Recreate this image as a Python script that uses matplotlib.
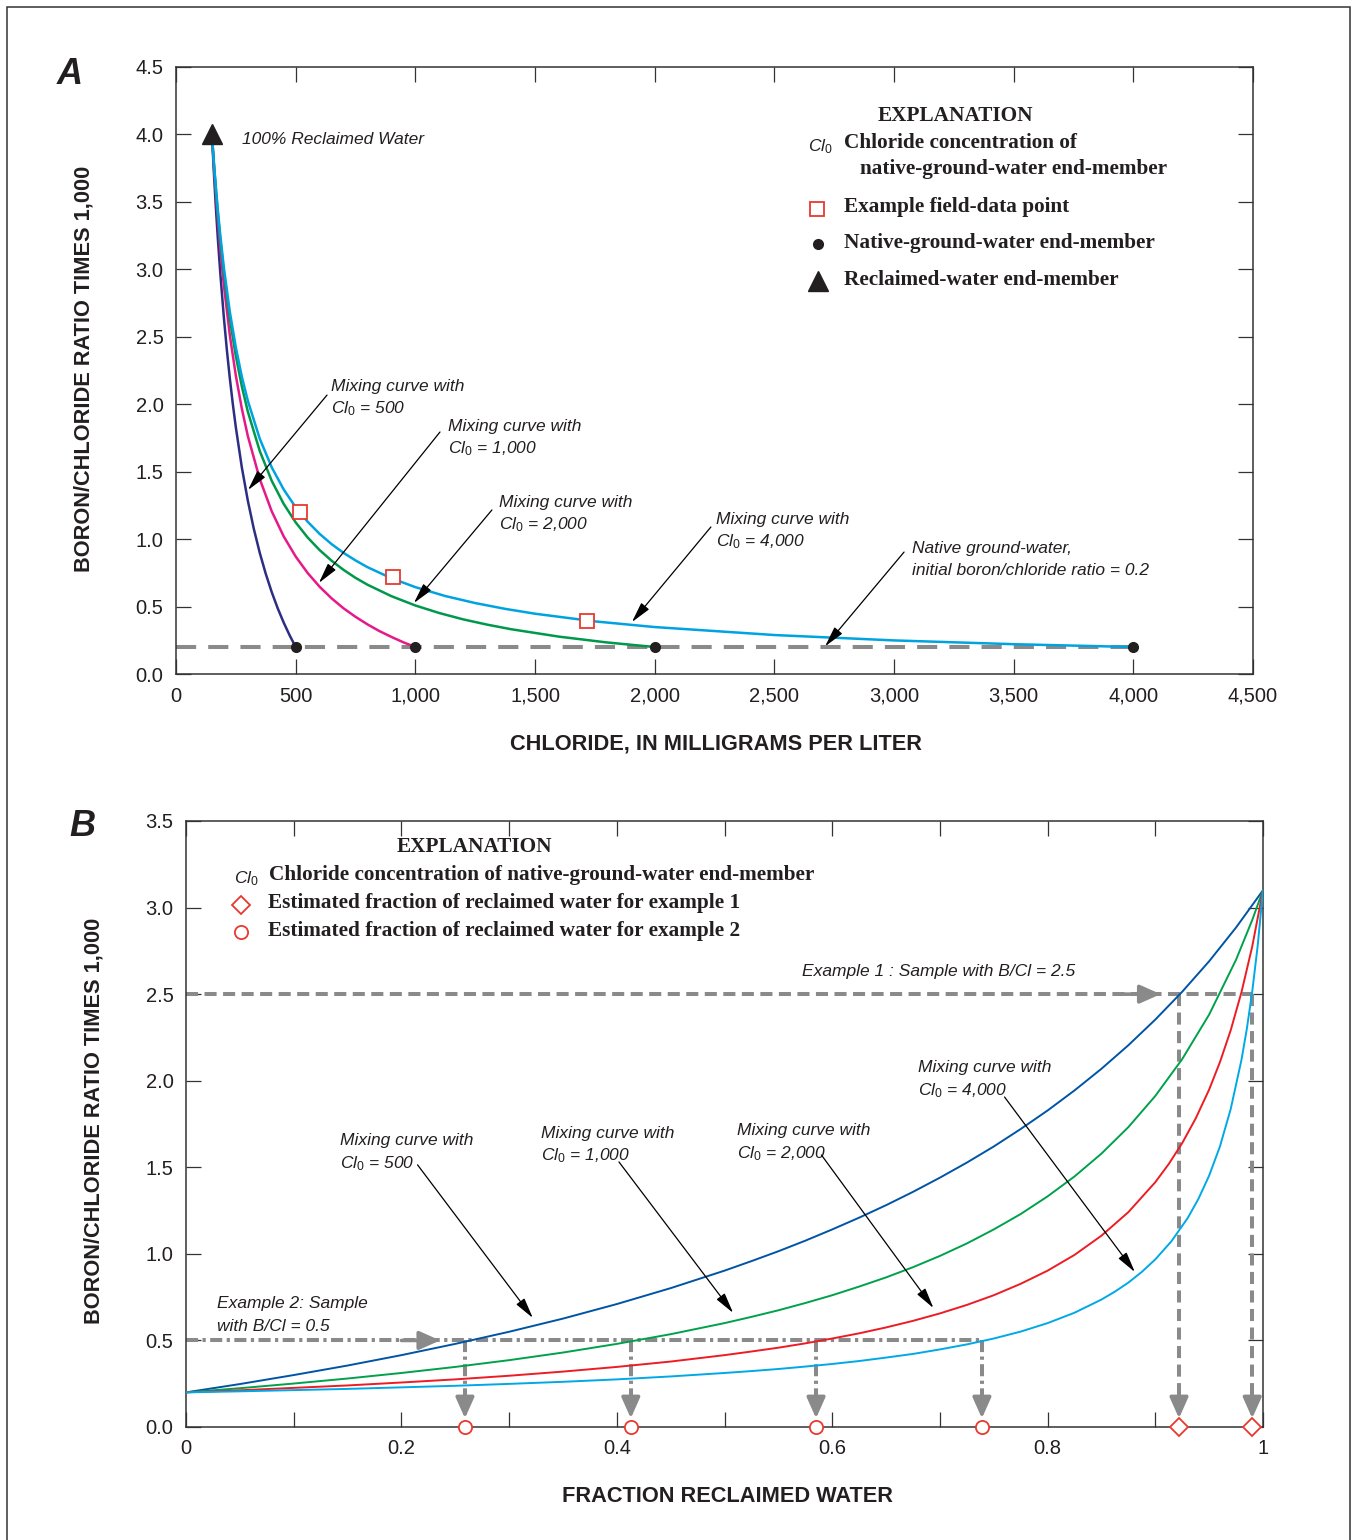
import matplotlib
matplotlib.use('Agg')
import matplotlib.pyplot as plt
from matplotlib.lines import Line2D
from matplotlib.patches import Rectangle

SANS = ['Liberation Sans', 'DejaVu Sans']
SERIF = ['Liberation Serif', 'DejaVu Serif']
plt.rcParams['font.family'] = SANS
plt.rcParams['mathtext.fontset'] = 'custom'
plt.rcParams['mathtext.it'] = 'Liberation Sans:italic'
plt.rcParams['mathtext.rm'] = 'Liberation Sans'

# ---- panel A: chloride (mg/L) vs boron/chloride ratio x 1000 ----
cl_500 = [150, 160, 165, 170, 175, 185, 200, 212.5, 225, 237.5, 250, 275, 300, 325, 350, 375, 400,
          425, 450, 475, 500]
bcl_500 = [4.0, 3.661, 3.506, 3.361, 3.224, 2.973, 2.643, 2.403, 2.190, 2.0, 1.829, 1.532, 1.286,
           1.077, 0.898, 0.743, 0.607, 0.487, 0.381, 0.286, 0.2]
cl_1000 = [150, 160, 170, 175, 185, 200, 225, 250, 275, 300, 350, 400, 450, 500, 550, 600, 650, 700,
           750, 800, 850, 900, 950, 1000]
bcl_1000 = [4.0, 3.721, 3.474, 3.361, 3.154, 2.882, 2.510, 2.212, 1.968, 1.765, 1.445, 1.206, 1.020,
            0.871, 0.749, 0.647, 0.561, 0.487, 0.424, 0.368, 0.318, 0.275, 0.235, 0.2]
cl_2000 = [150, 160, 170, 175, 185, 200, 225, 250, 275, 300, 350, 400, 450, 500, 550, 600, 650, 700,
           750, 800, 900, 1000, 1100, 1200, 1300, 1400, 1600, 1800, 2000]
bcl_2000 = [4.0, 3.743, 3.517, 3.413, 3.223, 2.973, 2.631, 2.357, 2.133, 1.946, 1.653, 1.432, 1.261,
            1.124, 1.012, 0.919, 0.840, 0.772, 0.713, 0.662, 0.577, 0.508, 0.452, 0.405, 0.366,
            0.332, 0.277, 0.234, 0.2]
cl_4000 = [150, 160, 170, 175, 185, 200, 225, 250, 275, 300, 350, 400, 450, 500, 550, 600, 650, 700,
           750, 800, 900, 1000, 1125, 1250, 1375, 1500, 1750, 2000, 2500, 3000, 3500, 4000]
bcl_4000 = [4.0, 3.753, 3.536, 3.436, 3.253, 3.013, 2.684, 2.421, 2.205, 2.026, 1.744, 1.532, 1.368,
            1.236, 1.129, 1.039, 0.963, 0.898, 0.842, 0.792, 0.710, 0.644, 0.578, 0.526, 0.483,
            0.447, 0.390, 0.348, 0.289, 0.249, 0.221, 0.2]

native_cl = [500, 1000, 2000, 4000]
native_ratio = 0.2
reclaimed_cl = 150
reclaimed_ratio = 4.0
field_cl = [518, 907, 1717]
field_ratio = [1.20, 0.72, 0.39]

# ---- panel B: fraction reclaimed water vs boron/chloride ratio x 1000 ----
f_500 = [0, 0.05, 0.1, 0.15, 0.2, 0.25, 0.3, 0.35, 0.4, 0.45, 0.5, 0.525, 0.55, 0.575, 0.6, 0.625,
         0.65, 0.675, 0.7, 0.725, 0.75, 0.775, 0.8, 0.825, 0.85, 0.875, 0.9, 0.925, 0.95, 0.975, 1.0]
r_500 = [0.2, 0.248, 0.300, 0.355, 0.415, 0.480, 0.550, 0.626, 0.710, 0.802, 0.903, 0.958, 1.015,
         1.076, 1.141, 1.209, 1.281, 1.358, 1.440, 1.527, 1.620, 1.721, 1.828, 1.944, 2.069, 2.205,
         2.353, 2.514, 2.690, 2.885, 3.1]
f_1000 = [0, 0.05, 0.1, 0.15, 0.2, 0.25, 0.3, 0.35, 0.4, 0.45, 0.5, 0.525, 0.55, 0.575, 0.6, 0.625,
          0.65, 0.675, 0.7, 0.725, 0.75, 0.775, 0.8, 0.825, 0.85, 0.875, 0.9, 0.925, 0.95, 0.975,
          0.99, 1.0]
r_1000 = [0.2, 0.224, 0.251, 0.280, 0.312, 0.347, 0.386, 0.430, 0.480, 0.536, 0.600, 0.636, 0.674,
          0.716, 0.761, 0.811, 0.864, 0.923, 0.988, 1.060, 1.141, 1.230, 1.332, 1.447, 1.579, 1.732,
          1.912, 2.125, 2.382, 2.699, 2.928, 3.1]
f_2000 = [0, 0.05, 0.1, 0.15, 0.2, 0.25, 0.3, 0.35, 0.4, 0.45, 0.5, 0.525, 0.55, 0.575, 0.6, 0.625,
          0.65, 0.675, 0.7, 0.725, 0.75, 0.775, 0.8, 0.825, 0.85, 0.875, 0.9, 0.9125, 0.925, 0.9375,
          0.95, 0.96, 0.97, 0.98, 0.99, 1.0]
r_2000 = [0.2, 0.212, 0.226, 0.240, 0.257, 0.275, 0.296, 0.320, 0.347, 0.378, 0.415, 0.436, 0.458,
          0.483, 0.511, 0.541, 0.575, 0.613, 0.656, 0.705, 0.761, 0.827, 0.903, 0.994, 1.105, 1.241,
          1.414, 1.519, 1.640, 1.782, 1.949, 2.107, 2.291, 2.511, 2.775, 3.1]
f_4000 = [0, 0.05, 0.1, 0.15, 0.2, 0.25, 0.3, 0.35, 0.4, 0.45, 0.5, 0.525, 0.55, 0.575, 0.6, 0.625,
          0.65, 0.675, 0.7, 0.725, 0.75, 0.775, 0.8, 0.825, 0.85, 0.8625, 0.875, 0.8875, 0.9, 0.915,
          0.93, 0.94, 0.95, 0.96, 0.97, 0.98, 0.985, 0.99, 0.995, 1.0]
r_4000 = [0.2, 0.206, 0.213, 0.220, 0.229, 0.238, 0.249, 0.261, 0.275, 0.292, 0.312, 0.323, 0.335,
          0.349, 0.364, 0.381, 0.401, 0.422, 0.448, 0.477, 0.511, 0.551, 0.600, 0.660, 0.736, 0.782,
          0.834, 0.896, 0.968, 1.073, 1.206, 1.317, 1.452, 1.620, 1.836, 2.120, 2.300, 2.515, 2.776,
          3.1]

ex1_ratio = 2.5
ex1_fraction = [0.922, 0.990]
ex2_ratio = 0.5
ex2_fraction = [0.259, 0.413, 0.585, 0.739]

GRAY = '#8a8a8a'
INK = '#231f20'
RED = '#e8392f'
W, H = 1353, 1540


def px(x, y):
    return x / W, 1 - y / H


def label_text(x, y, s, **kw):
    opts = dict(family=SERIF, weight='bold', size=15.3, color=INK, va='center', ha='left')
    opts.update(kw)
    fig.text(*px(x, y), s, **opts)


def legend_marker(x, y, **kw):
    fig.add_artist(Line2D([px(x, y)[0]], [px(x, y)[1]], transform=fig.transFigure, ls='none', **kw))


def arrow(ax, tip, start):
    ax.annotate('', xy=tip, xytext=start,
                arrowprops=dict(arrowstyle='-|>,head_length=0.9,head_width=0.22', color='k',
                                lw=0.9, shrinkA=0, shrinkB=0, mutation_scale=14))


def gray_head(ax, tip, tail):
    ax.annotate('', xy=tip, xytext=tail,
                arrowprops=dict(arrowstyle='-|>,head_length=0.9,head_width=0.4', color=GRAY,
                                lw=2.6, shrinkA=0, shrinkB=0, mutation_scale=14))


def style_axes(ax):
    for sp in ax.spines.values():
        sp.set_linewidth(1.1)
        sp.set_color('#333333')
    ax.tick_params(which='both', direction='in', length=11, width=0.9, color='#333333',
                   top=True, right=True, labelsize=14.5, labelcolor=INK, pad=9)


fig = plt.figure(figsize=(13.53, 15.40), dpi=100)
fig.add_artist(Rectangle((7 / W, -0.01), (1350 - 7) / W, 1.01 - 7 / H, transform=fig.transFigure,
                         fill=False, lw=1.1, ec='#333333'))

it = dict(style='italic', size=12.5, color=INK, va='center', ha='left')

# ================= panel A =================
axA = fig.add_axes([176 / W, 1 - 674 / H, 1077 / W, 607 / H])
axA.set_xlim(0, 4500)
axA.set_ylim(0, 4.5)
xt = list(range(0, 4501, 500))
axA.set_xticks(xt)
axA.set_xticklabels(['{:,}'.format(v) for v in xt])
yt = [i * 0.5 for i in range(10)]
axA.set_yticks(yt)
axA.set_yticklabels(['{:.1f}'.format(v) for v in yt])
style_axes(axA)

axA.plot([0, native_cl[-1]], [native_ratio, native_ratio], color=GRAY, lw=2.9, dashes=(5, 3), zorder=1)
axA.plot(cl_500, bcl_500, color='#2b2e83', lw=1.8, zorder=3)
axA.plot(cl_1000, bcl_1000, color='#e6198a', lw=1.8, zorder=3)
axA.plot(cl_2000, bcl_2000, color='#00984a', lw=1.8, zorder=3)
axA.plot(cl_4000, bcl_4000, color='#00a3e0', lw=1.8, zorder=3)
axA.plot(native_cl, [native_ratio] * len(native_cl), 'o', color=INK, ms=7, zorder=5)
axA.plot([reclaimed_cl], [reclaimed_ratio], '^', color=INK, ms=15, zorder=5, clip_on=False)
axA.plot(field_cl, field_ratio, 's', mfc='white', mec=RED, mew=1.3, ms=9.5, zorder=6)

axA.text(276, 3.96, '100% Reclaimed Water', **it)
axA.text(648, 2.135, 'Mixing curve with', **it)
axA.text(648, 1.964, 'Cl$_0$ = 500', **it)
arrow(axA, (301, 1.364), (631, 2.068))
axA.text(1136, 1.838, 'Mixing curve with', **it)
axA.text(1136, 1.668, 'Cl$_0$ = 1,000', **it)
arrow(axA, (597, 0.675), (1103, 1.794))
axA.text(1350, 1.275, 'Mixing curve with', **it)
axA.text(1350, 1.105, 'Cl$_0$ = 2,000', **it)
arrow(axA, (994, 0.526), (1320, 1.216))
axA.text(2256, 1.149, 'Mixing curve with', **it)
axA.text(2256, 0.979, 'Cl$_0$ = 4,000', **it)
arrow(axA, (1905, 0.385), (2235, 1.090))
axA.text(3075, 0.934, 'Native ground-water,', **it)
axA.text(3075, 0.764, 'initial boron/chloride ratio = 0.2', **it)
arrow(axA, (2712, 0.205), (3042, 0.904))

# explanation A
label_text(955, 116, 'EXPLANATION', ha='center')
fig.text(*px(808, 147), 'Cl$_0$', style='italic', size=12.5, color=INK, va='center', ha='left')
label_text(844, 143, 'Chloride concentration of')
label_text(860, 169, 'native-ground-water end-member')
legend_marker(817, 209, marker='s', mfc='white', mec=RED, mew=1.3, ms=9.5)
label_text(844, 207, 'Example field-data point')
legend_marker(818, 244, marker='o', color=INK, ms=7)
label_text(844, 243, 'Native-ground-water end-member')
legend_marker(818, 281, marker='^', color=INK, ms=15)
label_text(844, 280, 'Reclaimed-water end-member')

fig.text(*px(70, 75), 'A', weight='bold', style='italic', size=26, color=INK, ha='center', va='center')
fig.text(*px(84, 369), 'BORON/CHLORIDE RATIO TIMES 1,000', weight='bold', size=15.7, color=INK,
         rotation=90, ha='center', va='center')
fig.text(*px(716, 744), 'CHLORIDE, IN MILLIGRAMS PER LITER', weight='bold', size=15.7, color=INK,
         ha='center', va='center')

# ================= panel B =================
axB = fig.add_axes([186 / W, 1 - 1427 / H, 1077 / W, 606 / H])
axB.set_xlim(0, 1)
axB.set_ylim(0, 3.5)
axB.set_xticks([0, 0.2, 0.4, 0.6, 0.8, 1.0])
axB.set_xticklabels(['0', '0.2', '0.4', '0.6', '0.8', '1'])
axB.set_xticks([0.1, 0.3, 0.5, 0.7, 0.9], minor=True)
yt = [i * 0.5 for i in range(8)]
axB.set_yticks(yt)
axB.set_yticklabels(['{:.1f}'.format(v) for v in yt])
style_axes(axB)

axB.plot(f_500, r_500, color='#0054a6', lw=1.4, zorder=3)
axB.plot(f_1000, r_1000, color='#00a14b', lw=1.4, zorder=3)
axB.plot(f_2000, r_2000, color='#ed1c24', lw=1.4, zorder=3)
axB.plot(f_4000, r_4000, color='#00a9e6', lw=1.4, zorder=3)

# example 1 guide lines
dash1 = (3, 1.6)
axB.plot([0, ex1_fraction[-1]], [ex1_ratio, ex1_ratio], color=GRAY, lw=2.9, dashes=dash1, zorder=2)
for f in ex1_fraction:
    axB.plot([f, f], [ex1_ratio, 0.14], color=GRAY, lw=2.9, dashes=dash1, zorder=2)
    gray_head(axB, (f, 0.05), (f, 0.15))
gray_head(axB, (0.905, ex1_ratio), (0.87, ex1_ratio))

# example 2 guide lines
dash2 = (3, 1.1, 0.8, 1.1)
axB.plot([0, ex2_fraction[-1]], [ex2_ratio, ex2_ratio], color=GRAY, lw=2.9, dashes=dash2, zorder=2)
for f in ex2_fraction:
    axB.plot([f, f], [ex2_ratio, 0.14], color=GRAY, lw=2.9, dashes=dash2, zorder=2)
    gray_head(axB, (f, 0.05), (f, 0.15))
gray_head(axB, (0.236, ex2_ratio), (0.2, ex2_ratio))

axB.plot(ex2_fraction, [0] * len(ex2_fraction), 'o', mfc='white', mec=RED, mew=1.3, ms=9.5,
         zorder=6, clip_on=False)
axB.plot(ex1_fraction, [0] * len(ex1_fraction), 'D', mfc='white', mec=RED, mew=1.3, ms=9.5,
         zorder=6, clip_on=False)

axB.text(0.572, 2.629, 'Example 1 : Sample with B/Cl = 2.5', **it)
axB.text(0.029, 0.711, 'Example 2: Sample', **it)
axB.text(0.029, 0.583, 'with B/Cl = 0.5', **it)

axB.text(0.143, 1.652, 'Mixing curve with', **it)
axB.text(0.143, 1.519, 'Cl$_0$ = 500', **it)
arrow(axB, (0.322, 0.630), (0.215, 1.514))
axB.text(0.330, 1.693, 'Mixing curve with', **it)
axB.text(0.330, 1.566, 'Cl$_0$ = 1,000', **it)
arrow(axB, (0.508, 0.659), (0.402, 1.531))
axB.text(0.512, 1.710, 'Mixing curve with', **it)
axB.text(0.512, 1.577, 'Cl$_0$ = 2,000', **it)
arrow(axB, (0.694, 0.687), (0.590, 1.571))
axB.text(0.680, 2.074, 'Mixing curve with', **it)
axB.text(0.680, 1.941, 'Cl$_0$ = 4,000', **it)
arrow(axB, (0.881, 0.895), (0.760, 1.906))

# explanation B
label_text(474, 847, 'EXPLANATION', ha='center')
fig.text(*px(234, 879), 'Cl$_0$', style='italic', size=12.5, color=INK, va='center', ha='left')
label_text(269, 875, 'Chloride concentration of native-ground-water end-member')
legend_marker(241, 905, marker='D', mfc='white', mec=RED, mew=1.3, ms=9.5)
label_text(268, 903, 'Estimated fraction of reclaimed water for example 1')
legend_marker(241, 932, marker='o', mfc='white', mec=RED, mew=1.3, ms=9.5)
label_text(268, 931, 'Estimated fraction of reclaimed water for example 2')

fig.text(*px(82, 826), 'B', weight='bold', style='italic', size=26, color=INK, ha='center', va='center')
fig.text(*px(94, 1121), 'BORON/CHLORIDE RATIO TIMES 1,000', weight='bold', size=15.7, color=INK,
         rotation=90, ha='center', va='center')
fig.text(*px(727, 1496), 'FRACTION RECLAIMED WATER', weight='bold', size=15.7, color=INK,
         ha='center', va='center')

fig.savefig('out.png', dpi=100)
